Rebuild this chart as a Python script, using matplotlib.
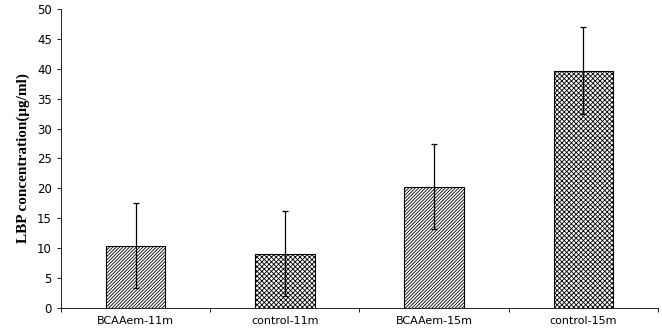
import matplotlib.pyplot as plt
import numpy as np

groups = ['BCAAem-11m', 'control-11m', 'BCAAem-15m', 'control-15m']
means = [10.4, 9.1, 20.3, 39.7]
errors = [7.1, 7.1, 7.1, 7.2]
hatches = ['//////////', 'xxxxxxx', '//////////', 'xxxxxxx']

plt.rcParams['hatch.linewidth'] = 0.6
plt.rcParams['hatch.color'] = '#404040'

fig = plt.figure(figsize=(6.62, 3.31), dpi=100)
ax = fig.add_axes([0.092, 0.0695, 0.902, 0.9035])

x = np.arange(len(groups))
bars = ax.bar(x, means, width=0.4, color='white', edgecolor='black', linewidth=0.8)
for b, h in zip(bars, hatches):
    b.set_hatch(h)
ax.errorbar(x, means, yerr=errors, fmt='none', ecolor='black', elinewidth=0.9,
            capsize=2.5, capthick=0.9)

ax.set_xlim(-0.5, 3.5)
ax.set_ylim(0, 50)
ax.set_yticks(np.arange(0, 51, 5))
ax.set_xticks(x)
ax.set_xticklabels(groups)
ax.set_xticks(np.arange(-0.5, 3.6, 1), minor=True)
ax.tick_params(axis='x', which='major', length=0, labelsize=8, pad=6)
ax.tick_params(axis='x', which='minor', length=3, width=0.6)
ax.tick_params(axis='y', length=3, width=0.6, labelsize=8.5)

for s in ['top', 'right']:
    ax.spines[s].set_visible(False)
for s in ['left', 'bottom']:
    ax.spines[s].set_linewidth(0.6)

ax.set_ylabel('LBP concentration(μg/ml)', family='Liberation Serif',
              fontweight='bold', fontsize=11, labelpad=5)

plt.savefig('out.png', dpi=100)
